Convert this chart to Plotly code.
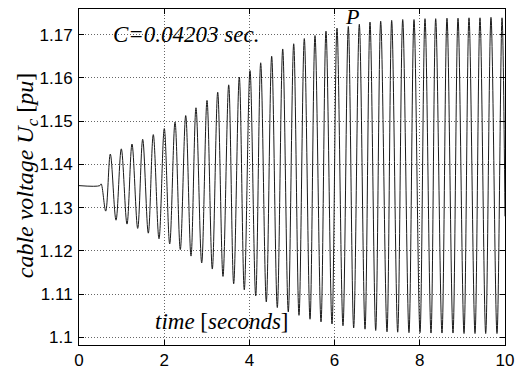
import plotly.graph_objects as go

# Cable voltage transient: flat pre-disturbance level, then a growing oscillation
pre_t = [0.0, 0.49, 0.52]
pre_v = [1.1351, 1.1351, 1.1355]

trough_t = [0.627, 0.869, 1.127, 1.378, 1.627, 1.878, 2.129, 2.378, 2.629, 2.880,
            3.129, 3.380, 3.631, 3.880, 4.148, 4.397, 4.655, 4.913, 5.164, 5.423,
            5.681, 5.939, 6.197, 6.448, 6.714, 6.965, 7.230, 7.481, 7.746, 8.005,
            8.263, 8.521, 8.779, 9.038, 9.296, 9.547, 9.812]
trough_v = [1.1292, 1.1271, 1.1262, 1.1252, 1.1241, 1.1228, 1.1216, 1.1203, 1.1188, 1.1172,
            1.1158, 1.1141, 1.1124, 1.1110, 1.1096, 1.1082, 1.1069, 1.1059, 1.1051, 1.1042,
            1.1036, 1.1031, 1.1027, 1.1022, 1.1019, 1.1016, 1.1013, 1.1012, 1.1011, 1.1011,
            1.1010, 1.1010, 1.1010, 1.1009, 1.1009, 1.1009, 1.1009]

peak_t = [0.735, 0.993, 1.244, 1.495, 1.744, 2.002, 2.254, 2.505, 2.746, 3.005,
          3.256, 3.514, 3.763, 4.014, 4.265, 4.523, 4.782, 5.040, 5.289, 5.540,
          5.798, 6.056, 6.322, 6.580, 6.831, 7.082, 7.340, 7.599, 7.864, 8.122,
          8.373, 8.638, 8.897, 9.155, 9.413, 9.671, 9.930]
peak_v = [1.1424, 1.1436, 1.1447, 1.1458, 1.1469, 1.1483, 1.1498, 1.1513, 1.1531, 1.1548,
          1.1567, 1.1584, 1.1602, 1.1617, 1.1635, 1.1650, 1.1667, 1.1679, 1.1691, 1.1698,
          1.1708, 1.1715, 1.1719, 1.1724, 1.1729, 1.1731, 1.1733, 1.1735, 1.1735, 1.1737,
          1.1737, 1.1738, 1.1738, 1.1739, 1.1739, 1.1740, 1.1739]

end_t = [10.0]
end_v = [1.1280]

x_ticks = [0, 2, 4, 6, 8, 10]
y_ticks = [1.10, 1.11, 1.12, 1.13, 1.14, 1.15, 1.16, 1.17]
y_tick_text = ["1.1", "1.11", "1.12", "1.13", "1.14", "1.15", "1.16", "1.17"]

# interleave troughs and peaks into one waveform
t = list(pre_t)
v = list(pre_v)
for tt, tv, pt, pv in zip(trough_t, trough_v, peak_t, peak_v):
    t += [tt, pt]
    v += [tv, pv]
t += end_t
v += end_v

serif = "Liberation Serif"
sans = "Liberation Sans"

fig = go.Figure()
fig.add_trace(go.Scatter(
    x=t, y=v, mode="lines",
    line=dict(color="#1a1a1a", width=1, shape="spline", smoothing=1.0),
    hoverinfo="skip", showlegend=False,
))

axis_common = dict(
    showline=True, linecolor="black", linewidth=1, mirror="ticks",
    ticks="inside", ticklen=5, tickcolor="black",
    showgrid=True, gridcolor="rgba(0,0,0,0.6)", gridwidth=1, griddash="1px,2px",
    zeroline=False, automargin=False,
    tickfont=dict(family=sans, size=17, color="black"),
    ticklabeloverflow="allow",
)

fig.update_xaxes(range=[0, 10], tickvals=x_ticks, ticklabelstandoff=0, **axis_common)
fig.update_yaxes(
    range=[1.09824, 1.17594], tickvals=y_ticks, ticktext=y_tick_text,
    ticklabelstandoff=2,
    **axis_common,
)

# y-axis label, rotated
fig.add_annotation(x=-0.123, y=0.504, xref="paper", yref="paper", showarrow=False,
                   xanchor="center", yanchor="middle", textangle=-90,
                   text="<i>cable voltage U<sub>c</sub></i> [<i>pu</i>]",
                   font=dict(family=serif, size=24, color="black"))
fig.add_annotation(x=2.52, y=1.1700, xref="x", yref="y", showarrow=False,
                   text="<i>C=0.04203 sec.</i>",
                   font=dict(family=serif, size=23, color="black"))
fig.add_annotation(x=6.42, y=1.1743, xref="x", yref="y", showarrow=False,
                   text="<i>P</i>",
                   font=dict(family=serif, size=22, color="black"))
fig.add_annotation(x=3.345, y=1.1036, xref="x", yref="y", showarrow=False,
                   text="<i>time</i> [<i>seconds</i>]",
                   font=dict(family=serif, size=23, color="black"))

fig.update_layout(
    width=515, height=370,
    margin=dict(l=79, r=10, t=9, b=25),
    paper_bgcolor="white", plot_bgcolor="white",
)

fig.write_html("out.html")
